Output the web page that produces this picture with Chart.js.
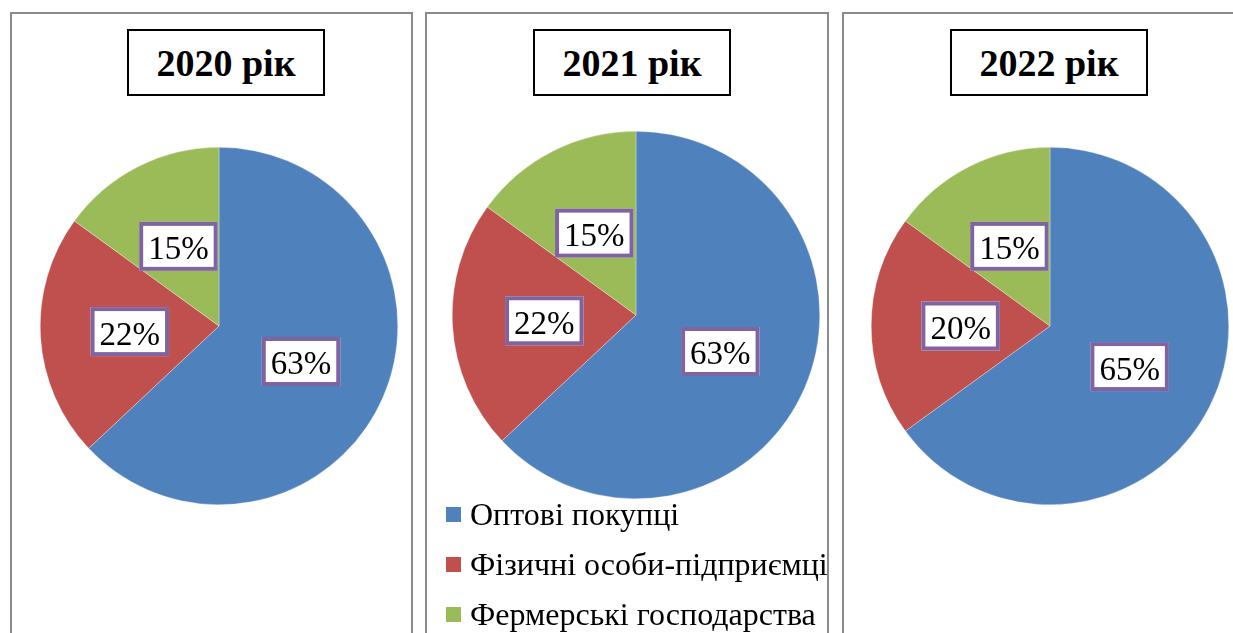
<!DOCTYPE html>
<html lang="uk">
<head>
<meta charset="utf-8">
<script src="https://cdn.jsdelivr.net/npm/chart.js@4.4.1/dist/chart.umd.min.js"></script>
<style>
  html, body { margin: 0; padding: 0; background: #fff; }
  body { width: 1233px; height: 633px; position: relative; overflow: hidden;
         font-family: "Liberation Serif", "Times New Roman", serif; }
  .panel { position: absolute; top: 12px; height: 700px; border: 2px solid #8a8a8a; box-sizing: border-box; }
  .title { position: absolute; top: 29px; width: 198px; height: 67px; border: 2px solid #000;
           box-sizing: border-box; display: flex; align-items: center; justify-content: center;
           font-weight: bold; font-size: 38px; color: #000; background: #fff; }
  canvas { position: absolute; }
  #legend { position: absolute; left: 446px; top: 489px; }
  .row { height: 50px; display: flex; align-items: center; font-size: 32px; color: #000; white-space: nowrap; }
  .sw { width: 15px; height: 15px; margin-right: 9px; flex: none; }
</style>
</head>
<body>
<div class="panel" style="left:10px;width:403px"></div>
<div class="panel" style="left:425px;width:404px"></div>
<div class="panel" style="left:842px;width:500px"></div>

<div class="title" id="t0" style="left:127px"></div>
<div class="title" id="t1" style="left:533px"></div>
<div class="title" id="t2" style="left:950px"></div>

<canvas id="pie0" width="358" height="358" style="left:40px;top:147px"></canvas>
<canvas id="pie1" width="368" height="368" style="left:452px;top:131px"></canvas>
<canvas id="pie2" width="358" height="358" style="left:871px;top:147px"></canvas>

<div id="legend"></div>

<script>
const categories = ["Оптові покупці", "Фізичні особи-підприємці", "Фермерські господарства"];
const years = ["2020 рік", "2021 рік", "2022 рік"];
const shares2020 = [63, 22, 15];
const shares2021 = [63, 22, 15];
const shares2022 = [65, 20, 15];

const colors = ["#4f81bd", "#c0504d", "#9bbb59"];
const labelBorder = "#8064a2";

// white boxes with purple frame at the middle of each slice
const boxLabels = {
  id: "boxLabels",
  afterDatasetsDraw(chart) {
    const ctx = chart.ctx;
    const meta = chart.getDatasetMeta(0);
    const data = chart.data.datasets[0].data;
    ctx.save();
    ctx.font = "33px 'Liberation Serif', 'Times New Roman', serif";
    meta.data.forEach((arc, i) => {
      const p = arc.tooltipPosition();
      const text = data[i] + "%";
      const w = ctx.measureText(text).width + 18;
      const h = 49;
      ctx.fillStyle = "#fff";
      ctx.fillRect(p.x - w / 2, p.y - h / 2, w, h);
      ctx.lineWidth = 4;
      ctx.strokeStyle = labelBorder;
      ctx.strokeRect(p.x - w / 2 + 2, p.y - h / 2 + 2, w - 4, h - 4);
      ctx.fillStyle = "#000";
      ctx.textAlign = "center";
      ctx.textBaseline = "alphabetic";
      ctx.fillText(text, p.x, p.y + 13);
    });
    ctx.restore();
  },
};

function makePie(id, values) {
  const el = document.getElementById(id);
  return new Chart(el.getContext("2d"), {
    type: "pie",
    data: {
      labels: categories,
      datasets: [
        {
          data: values,
          backgroundColor: colors,
          borderColor: "rgba(255,255,255,0.6)",
          borderWidth: 0.5,
          hoverOffset: 0,
          offset: 0,
        },
      ],
    },
    options: {
      responsive: false,
      animation: false,
      layout: { padding: 0 },
      events: [],
      plugins: { legend: { display: false }, tooltip: { enabled: false } },
    },
    plugins: [boxLabels],
  });
}

years.forEach((y, i) => {
  document.getElementById("t" + i).textContent = y;
});

makePie("pie0", shares2020);
makePie("pie1", shares2021);
makePie("pie2", shares2022);

const legend = document.getElementById("legend");
categories.forEach((c, i) => {
  const row = document.createElement("div");
  row.className = "row";
  const sw = document.createElement("span");
  sw.className = "sw";
  sw.style.background = colors[i];
  const txt = document.createElement("span");
  txt.textContent = c;
  row.appendChild(sw);
  row.appendChild(txt);
  legend.appendChild(row);
});
</script>
</body>
</html>
